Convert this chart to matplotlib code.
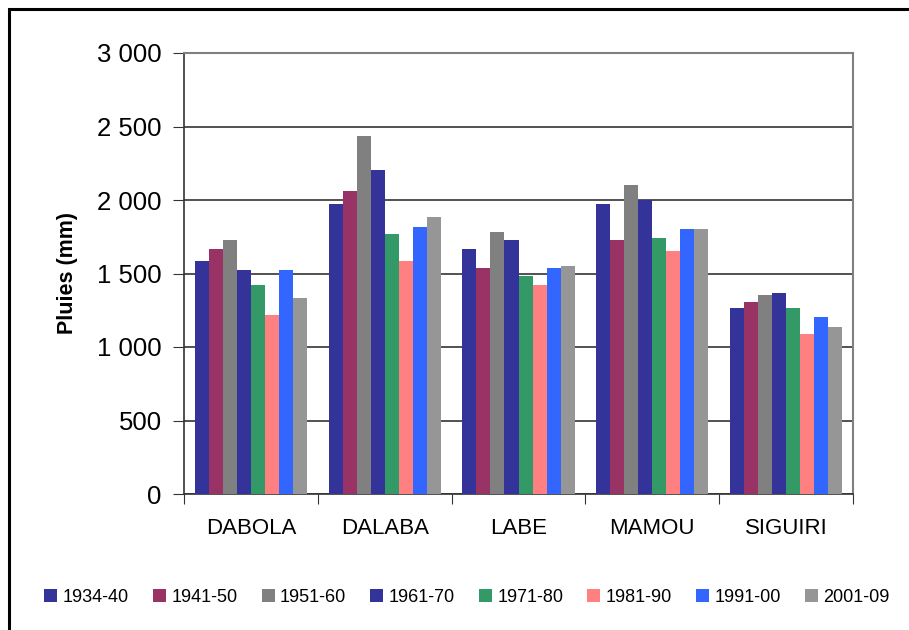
import numpy as np
import matplotlib
matplotlib.use("Agg")
import matplotlib.pyplot as plt
from matplotlib.patches import Rectangle
from matplotlib.ticker import FuncFormatter

stations = ["DABOLA", "DALABA", "LABE", "MAMOU", "SIGUIRI"]
periodes = ["1934-40", "1941-50", "1951-60", "1961-70", "1971-80", "1981-90", "1991-00", "2001-09"]
couleurs = ["#333399", "#993366", "#808080", "#333399", "#339966", "#FF8080", "#3366FF", "#969696"]

# pluie moyenne (mm) par station, une liste par periode
p1934 = [1585, 1974, 1667, 1974, 1265]
p1941 = [1667, 2062, 1537, 1728, 1306]
p1951 = [1728, 2436, 1782, 2103, 1354]
p1961 = [1524, 2205, 1728, 2001, 1367]
p1971 = [1422, 1769, 1483, 1742, 1265]
p1981 = [1217, 1585, 1422, 1653, 1088]
p1991 = [1524, 1817, 1537, 1803, 1204]
p2001 = [1333, 1885, 1551, 1803, 1136]
series = [p1934, p1941, p1951, p1961, p1971, p1981, p1991, p2001]

plt.rcParams['font.family'] = ['Liberation Sans', 'DejaVu Sans']

fig = plt.figure(figsize=(9.09, 6.3), dpi=100)
ax = fig.add_axes([184/909, 136/630, 669/909, 441/630])

x = np.arange(len(stations))
w = 0.105
for i, (per, vals, c) in enumerate(zip(periodes, series, couleurs)):
    ax.bar(x + (i - 3.5) * w, vals, w, color=c, label=per, zorder=3)

ax.set_xlim(-0.5, len(stations) - 0.5)
ax.set_ylim(0, 3000)
ax.set_yticks(np.arange(0, 3001, 500))
ax.yaxis.set_major_formatter(FuncFormatter(lambda v, p: f"{int(v):,}".replace(",", " ")))
ax.grid(axis='y', color='#222222', lw=1.1, zorder=0)

# ticks categories entre les groupes
ax.set_xticks(np.arange(-0.5, len(stations) + 0.5, 1))
ax.set_xticklabels([])
ax.set_xticks(x, minor=True)
ax.set_xticklabels(stations, minor=True, fontsize=16)
ax.tick_params(axis='x', which='minor', length=0, pad=17)
ax.tick_params(axis='x', which='major', length=7, direction='out', color='#333333')
ax.tick_params(axis='y', length=8, direction='out', labelsize=18.5, pad=8, color='#333333')

for s in ['top', 'right']:
    ax.spines[s].set_color('#808080')
    ax.spines[s].set_linewidth(1.5)
for s in ['left', 'bottom']:
    ax.spines[s].set_color('#333333')
    ax.spines[s].set_linewidth(1.2)

ax.set_ylabel("Pluies (mm)", fontsize=15.5, fontweight='bold', labelpad=14)

handles, labels = ax.get_legend_handles_labels()
fig.legend(handles, labels, loc='center', bbox_to_anchor=(467/909, 1 - 597/630), ncol=8,
           frameon=False, fontsize=13, handlelength=0.72, handleheight=0.72,
           handletextpad=0.3, columnspacing=1.33)

# cadre exterieur
fig.patches.append(Rectangle((9/909, -0.1), 1.2, 1 - 9/630 + 0.1, transform=fig.transFigure,
                             fill=False, ec='black', lw=2.2))

fig.savefig("out.png", dpi=100)
